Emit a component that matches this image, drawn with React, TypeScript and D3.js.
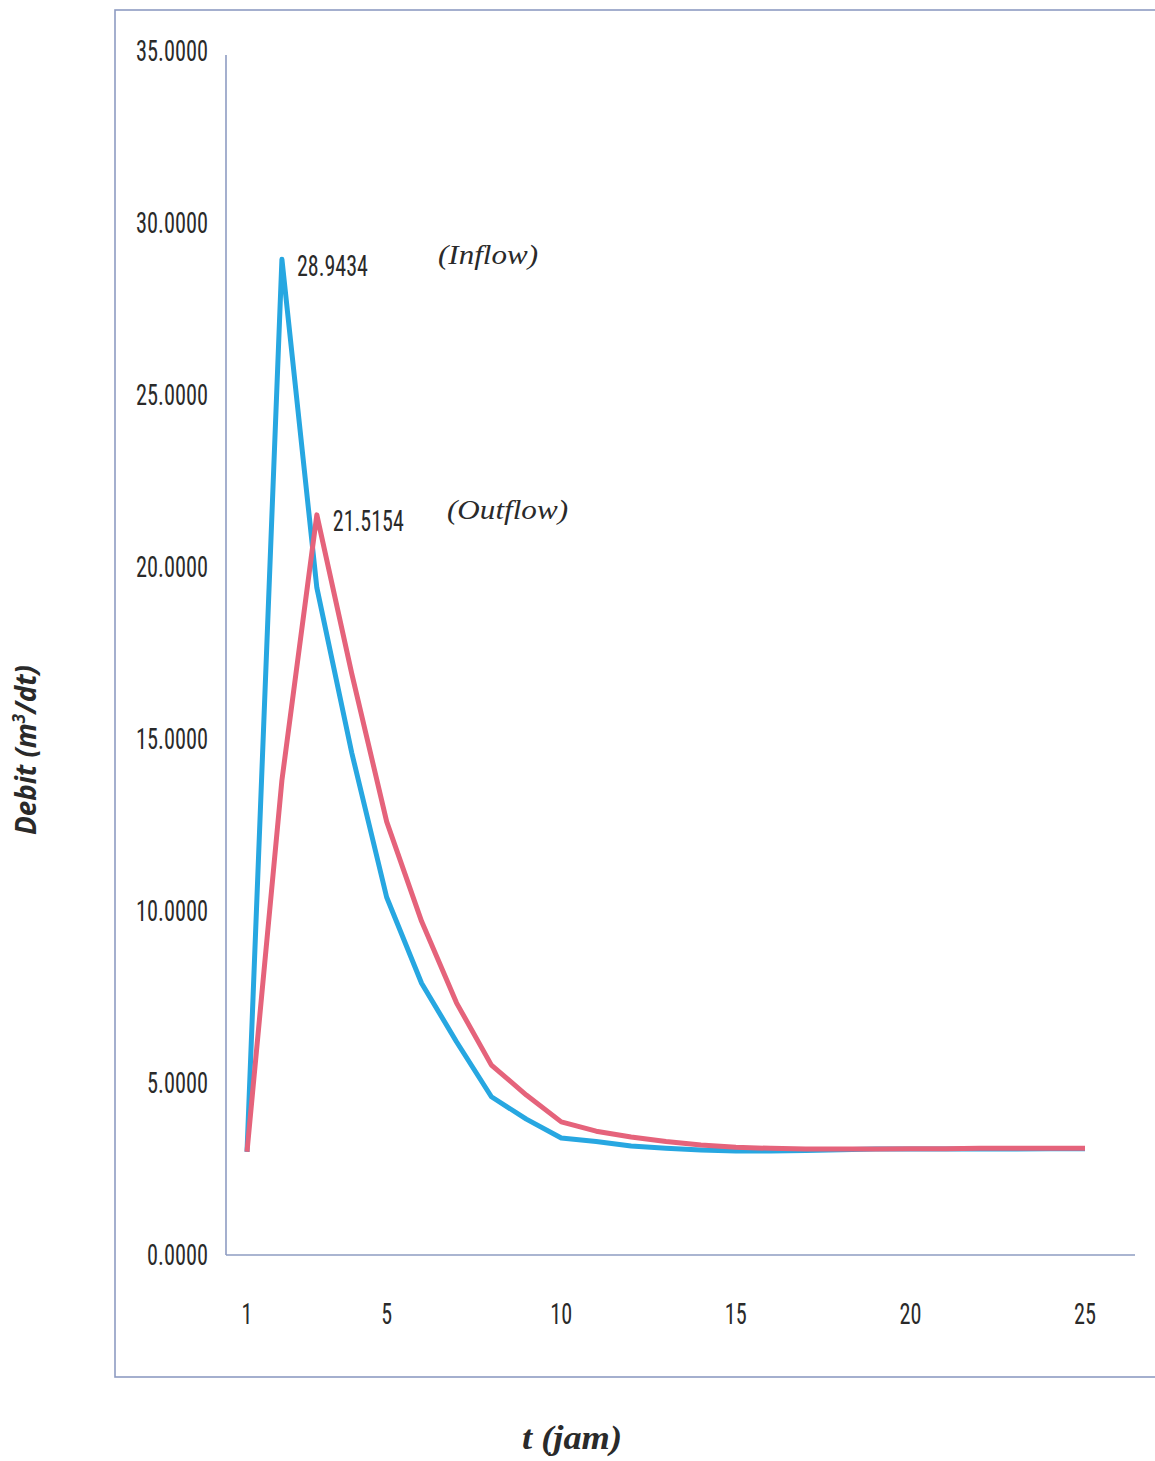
import React from "react";
import * as d3 from "d3";

const tValues: number[] = d3.range(1, 26);
const inflow: number[] = [3.0, 28.9434, 19.4, 14.6, 10.4, 7.9, 6.2, 4.6, 3.95, 3.4, 3.3, 3.17, 3.1, 3.05, 3.02, 3.02, 3.04, 3.06, 3.08, 3.08, 3.08, 3.08, 3.08, 3.09, 3.09];
const outflow: number[] = [3.0, 13.8, 21.5154, 16.9, 12.6, 9.7, 7.33, 5.52, 4.65, 3.87, 3.6, 3.43, 3.3, 3.2, 3.13, 3.1, 3.08, 3.08, 3.08, 3.09, 3.09, 3.1, 3.1, 3.1, 3.1];
const yTicks: number[] = [0, 5, 10, 15, 20, 25, 30, 35];
const xTicks: number[] = [1, 5, 10, 15, 20, 25];
const peakLabels = [
  { series: "inflow", t: 2, value: 28.9434, text: "28.9434", name: "(Inflow)" },
  { series: "outflow", t: 3, value: 21.5154, text: "21.5154", name: "(Outflow)" },
];

const W = 1155;
const H = 1461;

const NARROW = "'Liberation Sans Narrow', 'Roboto Condensed', 'DejaVu Sans Condensed', 'Liberation Sans', sans-serif";
const SERIF = "'Liberation Serif', 'DejaVu Serif', serif";

export default function App() {
  const x = d3.scaleLinear().domain([1, 25]).range([247, 1085]);
  const y = d3.scaleLinear().domain([0, 35]).range([1255, 51]);

  const line = d3
    .line<number>()
    .x((_, i) => x(tValues[i]))
    .y((d) => y(d));

  const blue = "#27A7E1";
  const red = "#E5637B";
  const axisCol = "#8E9CC2";
  const textCol = "#2a2a2a";

  return (
    <svg
      width={W}
      height={H}
      style={{ position: "absolute", left: 0, top: 0, background: "#fff" }}
    >
      <rect x={0} y={0} width={W} height={H} fill="#fff" />
      {/* outer chart border */}
      <rect x={115} y={10} width={1100} height={1367} fill="none" stroke={axisCol} strokeWidth={1.6} />

      {/* axes */}
      <line x1={226} x2={226} y1={55} y2={y(0)} stroke={axisCol} strokeWidth={1.6} />
      <line x1={226} x2={1135} y1={y(0)} y2={y(0)} stroke={axisCol} strokeWidth={1.6} />

      {/* y tick labels */}
      {yTicks.map((v) => (
        <text
          key={v}
          transform={`translate(208,${y(v)}) scale(1,1.35)`}
          textAnchor="end"
          dominantBaseline="central"
          fontFamily={NARROW}
          fontSize={22}
          fill={textCol}
          textLength={v >= 10 ? 72 : 61}
          lengthAdjust="spacingAndGlyphs"
        >
          {d3.format(".4f")(v)}
        </text>
      ))}

      {/* x tick labels */}
      {xTicks.map((v) => (
        <text
          key={v}
          transform={`translate(${x(v)},1314) scale(1,1.35)`}
          textAnchor="middle"
          dominantBaseline="central"
          fontFamily={NARROW}
          fontSize={22}
          fill={textCol}
          textLength={v >= 10 ? 22 : undefined}
          lengthAdjust="spacingAndGlyphs"
        >
          {v}
        </text>
      ))}

      {/* series */}
      <path d={line(inflow) || ""} fill="none" stroke={blue} strokeWidth={5} strokeLinejoin="round" />
      <path d={line(outflow) || ""} fill="none" stroke={red} strokeWidth={5} strokeLinejoin="round" />

      {/* peak labels */}
      {peakLabels.map((p) => (
        <g key={p.series}>
          <text
            transform={`translate(${x(p.t) + (p.series === "inflow" ? 15 : 16)},${y(p.value) + 6}) scale(1,1.35)`}
            dominantBaseline="central"
            fontFamily={NARROW}
            fontSize={22}
            fill={textCol}
            textLength={71}
            lengthAdjust="spacingAndGlyphs"
          >
            {p.text}
          </text>
          <text
            x={p.series === "inflow" ? 438 : 447}
            y={p.series === "inflow" ? 264 : 519}
            fontFamily={SERIF}
            fontStyle="italic"
            fontSize={28}
            fill={textCol}
            textLength={p.series === "inflow" ? 100 : 121}
            lengthAdjust="spacingAndGlyphs"
          >
            {p.name}
          </text>
        </g>
      ))}

      {/* axis titles */}
      <text
        transform="translate(36,750) rotate(-90)"
        textAnchor="middle"
        fontFamily="'Open Sans', 'Liberation Sans', sans-serif"
        fontStyle="italic"
        fontWeight="bold"
        fontSize={28}
        fill={textCol}
        textLength={170}
        lengthAdjust="spacingAndGlyphs"
      >
        Debit (m<tspan baselineShift="super" fontSize={17}>3</tspan>/dt)
      </text>
      <text
        x={572}
        y={1449}
        textAnchor="middle"
        fontFamily={SERIF}
        fontStyle="italic"
        fontWeight="bold"
        fontSize={34}
        fill={textCol}
        textLength={100}
        lengthAdjust="spacingAndGlyphs"
      >
        t (jam)
      </text>
    </svg>
  );
}
